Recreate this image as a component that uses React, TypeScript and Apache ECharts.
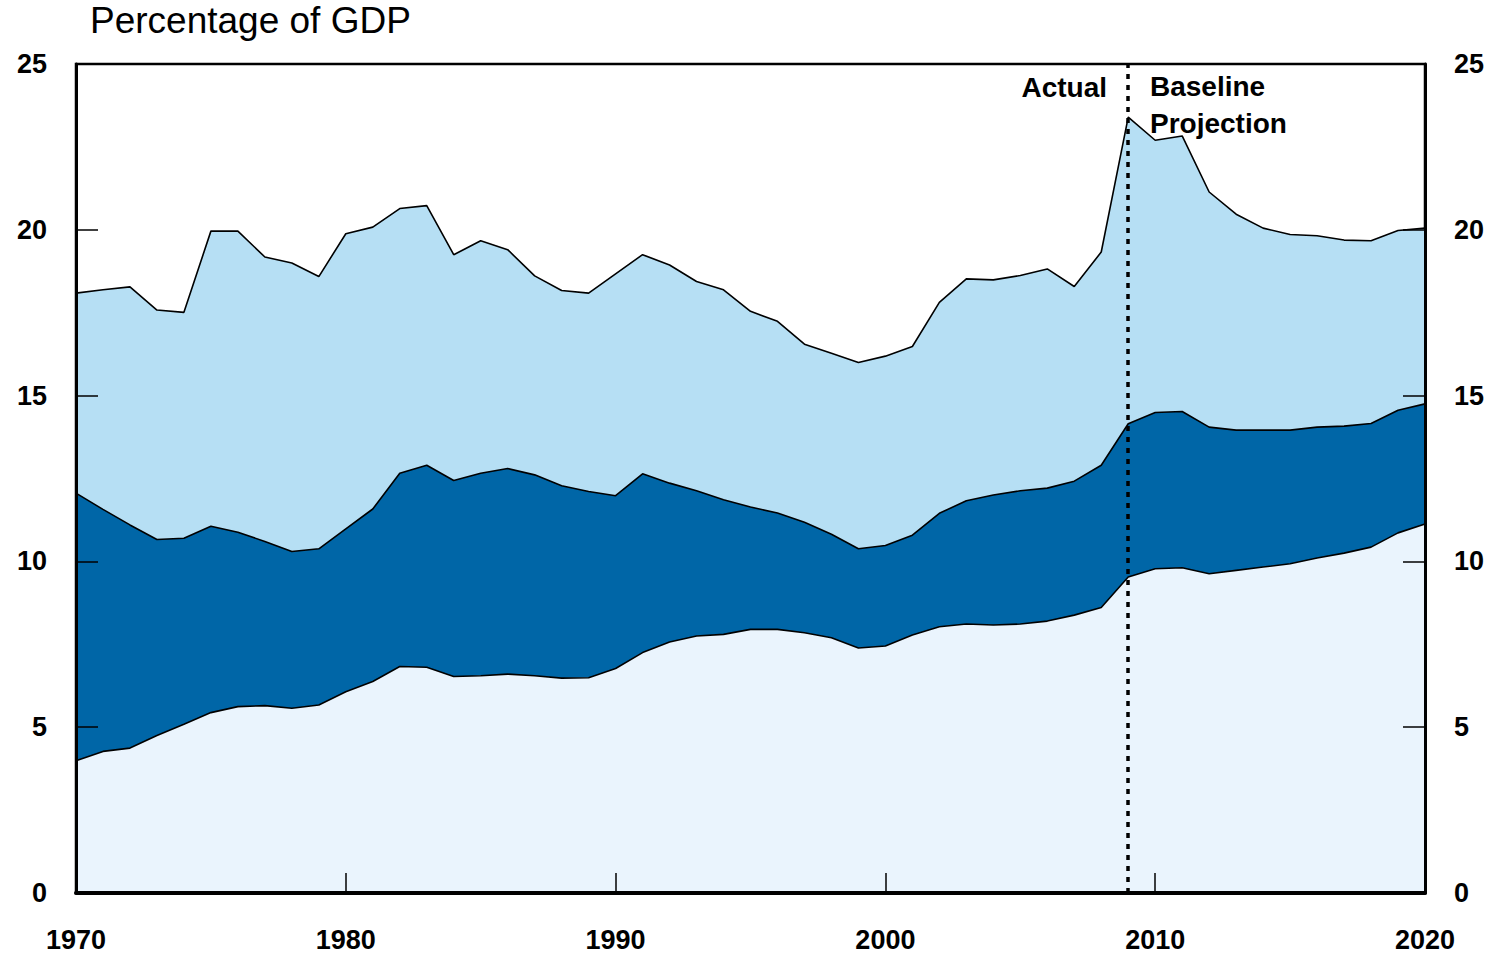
import React, { useEffect, useRef } from "react";
import * as echarts from "echarts";

// Years 1970..2020 (annual)
const years: string[] = Array.from({ length: 51 }, (_, i) => String(1970 + i));

// Percentage of GDP
const socialSecurityHealth: number[] = [
  3.99, 4.27, 4.37, 4.75, 5.09, 5.44, 5.62, 5.65, 5.57, 5.67,
  6.07, 6.38, 6.83, 6.81, 6.53, 6.55, 6.6, 6.55, 6.48, 6.49,
  6.77, 7.25, 7.57, 7.75, 7.8, 7.95, 7.95, 7.85, 7.7, 7.39,
  7.45, 7.78, 8.03, 8.11, 8.08, 8.11, 8.2, 8.38, 8.61, 9.53,
  9.78, 9.81, 9.63, 9.73, 9.83, 9.93, 10.1, 10.25, 10.43, 10.86,
  11.13,
];
const defense: number[] = [
  8.07, 7.3, 6.73, 5.91, 5.61, 5.62, 5.26, 4.95, 4.73, 4.71,
  4.91, 5.2, 5.83, 6.09, 5.91, 6.11, 6.2, 6.06, 5.8, 5.62,
  5.21, 5.39, 4.79, 4.38, 4.06, 3.69, 3.51, 3.33, 3.12, 2.99,
  3.03, 3.01, 3.42, 3.72, 3.92, 4.02, 4.01, 4.04, 4.29, 4.62,
  4.71, 4.71, 4.42, 4.23, 4.13, 4.03, 3.95, 3.83, 3.73, 3.7,
  3.62,
];
const nondefenseOther: number[] = [
  6.03, 6.62, 7.18, 6.92, 6.81, 8.9, 9.08, 8.58, 8.7, 8.21,
  8.9, 8.5, 7.98, 7.83, 6.81, 7.01, 6.6, 6.0, 5.89, 5.98,
  6.69, 6.61, 6.58, 6.31, 6.33, 5.9, 5.78, 5.37, 5.46, 5.62,
  5.71, 5.69, 6.36, 6.69, 6.49, 6.49, 6.61, 5.87, 6.43, 9.25,
  8.21, 8.31, 7.09, 6.51, 6.09, 5.9, 5.77, 5.61, 5.51, 5.42,
  5.3,
];
const dividerYear = "2009";
const yTicks = { min: 0, max: 25, interval: 5 };
const xLabelEvery = 10;

const FONT = '"Liberation Sans", Arial, sans-serif';

export default function App() {
  const ref = useRef<HTMLDivElement>(null);
  useEffect(() => {
    if (!ref.current) return;
    const chart = echarts.init(ref.current, null, { renderer: "svg" });
    const lineStyle = { color: "#000", width: 1.6 };
    const decade = (_i: number, v: string) => Number(v) % xLabelEvery === 0;
    const yAxisBase = {
      type: "value",
      z: 20,
      min: yTicks.min,
      max: yTicks.max,
      interval: yTicks.interval,
      axisLine: { show: true, onZero: false, lineStyle: { color: "#000", width: 3 } },
      axisTick: { show: true, inside: true, length: 22, lineStyle: { color: "#000", width: 1.5 } },
      axisLabel: { fontFamily: FONT, fontWeight: "bold", fontSize: 27, color: "#000", margin: 29 },
      splitLine: { show: false },
    };
    chart.setOption({
      animation: false,
      backgroundColor: "#fff",
      grid: {
        left: 76, right: 70, top: 64, bottom: 62,
        show: true, borderColor: "#000", borderWidth: 2.5, backgroundColor: "transparent",
      },
      xAxis: {
        type: "category",
        z: 20,
        data: years,
        boundaryGap: false,
        axisLine: { show: true, lineStyle: { color: "#000", width: 4 } },
        axisTick: { show: true, inside: true, length: 20, interval: decade, lineStyle: { color: "#000", width: 1.5 } },
        axisLabel: {
          fontFamily: FONT, fontWeight: "bold", fontSize: 27, color: "#000", margin: 33,
          interval: decade,
        },
        splitLine: { show: false },
      },
      yAxis: [
        { ...yAxisBase, position: "left" },
        { ...yAxisBase, position: "right" },
      ],
      series: [
        {
          name: "Medicare, Medicaid, and Social Security",
          type: "line",
          stack: "total",
          data: socialSecurityHealth,
          showSymbol: false,
          lineStyle,
          areaStyle: { color: "#EAF4FD", opacity: 1 },
          z: 3,
        },
        {
          name: "Defense",
          type: "line",
          stack: "total",
          data: defense,
          showSymbol: false,
          lineStyle,
          areaStyle: { color: "#0066A7", opacity: 1 },
          z: 2,
        },
        {
          name: "Nondefense Discretionary and Other Mandatory",
          type: "line",
          stack: "total",
          data: nondefenseOther,
          showSymbol: false,
          lineStyle,
          areaStyle: { color: "#B6DFF4", opacity: 1 },
          z: 1,
          markLine: {
            silent: true,
            symbol: "none",
            label: { show: false },
            lineStyle: { color: "#000", type: [5, 6], width: 3.5 },
            data: [{ xAxis: dividerYear }],
            z: 10,
          },
        },
      ],
      graphic: [
        {
          type: "text",
          left: 90,
          top: 2,
          style: { text: "Percentage of GDP", font: `37px ${FONT}`, fill: "#000" },
        },
        {
          type: "text",
          x: 1107, y: 87,
          style: { text: "Actual", font: `bold 28px ${FONT}`, fill: "#000", textAlign: "right", textVerticalAlign: "middle" },
        },
        {
          type: "text",
          x: 1150, y: 105,
          style: { text: "Baseline\nProjection", font: `bold 28px ${FONT}`, lineHeight: 37, fill: "#000", textAlign: "left", textVerticalAlign: "middle" },
        },
        {
          type: "text",
          x: 356, y: 370,
          style: { text: "Nondefense\nDiscretionary and\nOther Mandatory", font: `bold 28px ${FONT}`, lineHeight: 41, fill: "#000", textAlign: "center", textVerticalAlign: "middle" },
        },
        {
          type: "text",
          x: 675, y: 574,
          style: { text: "Defense", font: `bold 28px ${FONT}`, fill: "#fff", textAlign: "center", textVerticalAlign: "middle" },
        },
        {
          type: "text",
          x: 937, y: 755,
          style: { text: "Medicare, Medicaid,\nand Social Security", font: `bold 28px ${FONT}`, lineHeight: 41, fill: "#000", textAlign: "center", textVerticalAlign: "middle" },
        },
      ],
    });
    return () => chart.dispose();
  }, []);
  return (
    <div
      ref={ref}
      style={{ position: "absolute", left: 0, top: 0, width: 1495, height: 955, background: "#fff" }}
    />
  );
}
